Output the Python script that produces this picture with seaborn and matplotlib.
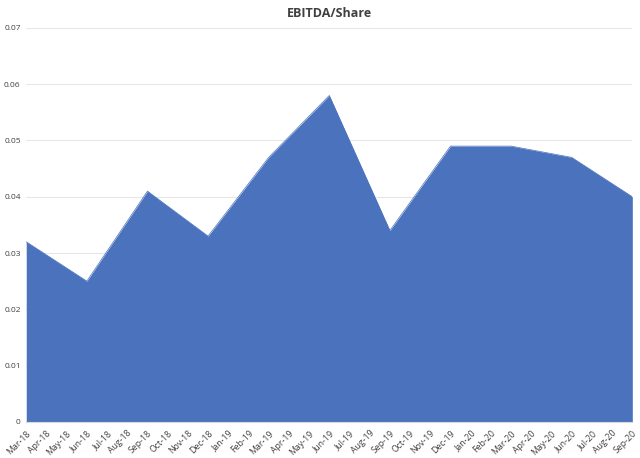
import pandas as pd
import matplotlib.pyplot as plt
import seaborn as sns

# quarterly values, monthly ticks
quarters = ['Mar-18', 'Jun-18', 'Sep-18', 'Dec-18', 'Mar-19', 'Jun-19',
            'Sep-19', 'Dec-19', 'Mar-20', 'Jun-20', 'Sep-20']
ebitda_share = [0.032, 0.025, 0.041, 0.033, 0.047, 0.058,
                0.034, 0.049, 0.049, 0.047, 0.040]

months = pd.date_range('2018-03-01', '2020-09-01', freq='MS')
month_labels = [m.strftime('%b-%y') for m in months]

df = pd.DataFrame({'quarter': quarters, 'value': ebitda_share})
df['pos'] = [month_labels.index(q) for q in df['quarter']]

sns.set_style('white')
plt.rcParams['font.family'] = ['Open Sans', 'DejaVu Sans']

fig = plt.figure(figsize=(6.4, 4.58), dpi=100)
ax = fig.add_axes([0.041, 0.079, 0.947, 0.860])

blue = '#4a72bd'
sns.lineplot(data=df, x='pos', y='value', color=blue, linewidth=0.5, ax=ax)
ax.fill_between(df['pos'], df['value'], 0, color=blue, linewidth=0)

ax.set_xlim(0, len(months) - 1)
ax.set_ylim(0, 0.07)
ax.set_yticks([0, 0.01, 0.02, 0.03, 0.04, 0.05, 0.06, 0.07])
ax.set_yticklabels(['0', '0.01', '0.02', '0.03', '0.04', '0.05', '0.06', '0.07'],
                   fontsize=6, color='#404040')
ax.set_xticks(range(len(months)))
ax.set_xticklabels(month_labels, rotation=45, ha='right', rotation_mode='anchor',
                   fontsize=6.3, color='#404040')
ax.tick_params(axis='x', length=3, color='#d9d9d9', pad=2)
ax.tick_params(axis='y', length=0, pad=4)

ax.grid(axis='y', color='#e6e6e6', linewidth=0.8)
ax.set_axisbelow(True)
for s in ['top', 'right', 'left']:
    ax.spines[s].set_visible(False)
ax.spines['bottom'].set_color('#d9d9d9')
ax.set_xlabel('')
ax.set_ylabel('')
ax.set_title('EBITDA/Share', fontsize=9, fontweight='bold', color='#404040', pad=8)

plt.savefig('out.png', dpi=100)
